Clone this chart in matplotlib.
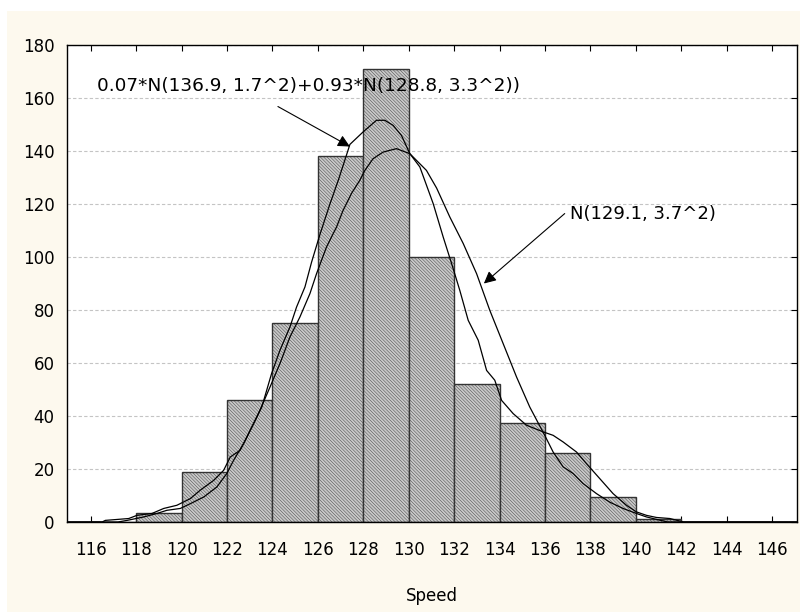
import matplotlib
matplotlib.use("Agg")
import matplotlib.pyplot as plt
import numpy as np

plt.rcParams["font.family"] = ["DejaVu Sans"]
plt.rcParams["hatch.color"] = "#b3b3b3"
plt.rcParams["hatch.linewidth"] = 0.3

# histogram bins (left edges, width 2) and counts
bin_left = [116, 118, 120, 122, 124, 126, 128, 130, 132, 134, 136, 138, 140, 142, 144]
counts = [0, 3.5, 19, 46, 75, 138, 171, 100, 52, 37.5, 26, 9.4, 1.3, 0, 0]

# mixture curve, 0.07*N(136.9,1.7^2)+0.93*N(128.8,3.3^2)
mix_x = [115.0, 117.2, 117.6, 118.33, 118.91, 119.35, 119.94, 120.38, 120.97,
         121.55, 121.99, 122.29, 122.73, 123.17, 123.53, 123.96, 124.33, 124.77,
         125.06, 125.43, 125.72, 126.09, 126.53, 126.9, 127.26, 127.41, 127.99,
         128.58, 128.95, 129.31, 129.68, 130.05, 130.49, 131.08, 131.52, 131.89,
         132.25, 132.62, 133.06, 133.43, 133.79, 134.09, 134.6, 135.19, 135.92,
         136.36, 136.8, 137.39, 137.83, 138.41, 139.0, 139.59, 140.03, 140.47,
         140.91, 141.5, 142.1, 147.1]
mix_y = [0, 0, 0.6, 1.9, 3.2, 4.4, 5.1, 6.9, 9.4,
         13.2, 18.3, 23.3, 29.6, 37.1, 43.4, 56, 64.8, 73.6,
         81.1, 88.7, 98, 108.5, 120, 129, 138.5, 142.5, 147.2,
         151.6, 151.6, 149.7, 145.9, 139, 134, 120.1, 107.5, 97.5,
         87.4, 76.1, 68.6, 57.2, 53.5, 45.9, 40.9, 36.5, 34,
         32.7, 30.2, 26.4, 22, 16.4, 10.7, 6.3, 3.8, 2.5,
         1.7, 1.3, 0, 0]

# single normal curve, N(129.1,3.7^2)
norm_x = [115.0, 116.5, 116.64, 117.67, 118.03, 118.69, 119.21, 119.79, 120.38,
          120.82, 121.41, 121.85, 122.14, 122.58, 123.02, 123.45, 123.89, 124.33,
          124.77, 125.21, 125.65, 125.94, 126.38, 126.82, 127.11, 127.48, 127.85,
          128.07, 128.43, 128.87, 129.46, 130.05, 130.49, 130.78, 131.23, 131.81,
          132.4, 132.99, 133.57, 134.16, 134.75, 135.33, 135.99, 136.36, 136.8,
          137.24, 137.68, 138.27, 138.85, 139.44, 140.03, 140.47, 140.9, 141.4, 147.1]
norm_y = [0, 0, 0.6, 1.3, 2.5, 3.2, 5.1, 6.3, 8.8,
          12, 15.7, 19.5, 24.5, 27.1, 34.6, 42.2, 50.9, 59.8,
          69.8, 77.4, 86.2, 93.7, 103.8, 111.3, 117.6, 124, 129,
          132.7, 137.1, 139.6, 140.9, 139, 135.2, 132.7, 126, 115.1,
          105.1, 93.7, 79.9, 67.3, 54.7, 43.4, 32.7, 26.4, 20.8,
          18.3, 14.5, 10.7, 7.5, 5.1, 3.2, 1.9, 1.0, 0, 0]

xticks = list(range(116, 147, 2))
yticks = list(range(0, 181, 20))

mix_label = "0.07*N(136.9, 1.7^2)+0.93*N(128.8, 3.3^2))"
norm_label = "N(129.1, 3.7^2)"


def main():
    fig = plt.figure(figsize=(8.04, 6.13), dpi=100)
    fig.patch.set_facecolor("white")
    fig.patches.append(plt.Rectangle((0.0087, 0.0016), 0.9863, 0.9804,
                                     transform=fig.transFigure,
                                     facecolor="#fdf9ee", edgecolor="none",
                                     zorder=-10))
    ax = fig.add_axes([0.0833, 0.1485, 0.908, 0.778])
    ax.set_facecolor("white")

    ax.bar(bin_left, counts, width=2, align="edge", facecolor="#c8c8c8",
           edgecolor="#333333", linewidth=1.0, hatch="\\" * 10, zorder=2)
    ax.plot(mix_x, mix_y, color="black", lw=0.9, zorder=3)
    ax.plot(norm_x, norm_y, color="black", lw=0.9, zorder=3)

    ax.set_xlim(114.95, 147.1)
    ax.set_ylim(0, 180)
    ax.set_xticks(xticks)
    ax.set_yticks(yticks)
    ax.tick_params(axis="x", direction="in", length=4, top=True,
                   labelsize=12, pad=14)
    ax.tick_params(axis="y", direction="in", length=4, left=False,
                   right=True, labelsize=12, pad=9)
    ax.yaxis.grid(True, linestyle=(0, (3, 2)), color="#c4c4c4", lw=0.8)
    ax.set_axisbelow(True)
    for s in ax.spines.values():
        s.set_linewidth(1.0)
        s.set_color("black")
    ax.set_xlabel("Speed", fontsize=12, labelpad=20)

    ax.annotate("", xy=(127.41, 141.7), xytext=(124.24, 156.8),
                arrowprops=dict(arrowstyle="-|>", color="black", lw=0.8,
                                mutation_scale=18, shrinkA=0, shrinkB=0),
                zorder=5)
    ax.text(116.27, 164.4, mix_label, fontsize=13.3, va="center", ha="left",
            zorder=5)
    ax.annotate("", xy=(133.31, 90), xytext=(136.87, 116.4),
                arrowprops=dict(arrowstyle="-|>", color="black", lw=0.8,
                                mutation_scale=18, shrinkA=0, shrinkB=0),
                zorder=5)
    ax.text(137.12, 116.4, norm_label, fontsize=13, va="center", ha="left",
            zorder=5)

    fig.savefig("out.png", dpi=100, facecolor=fig.get_facecolor())


if __name__ == "__main__":
    main()
